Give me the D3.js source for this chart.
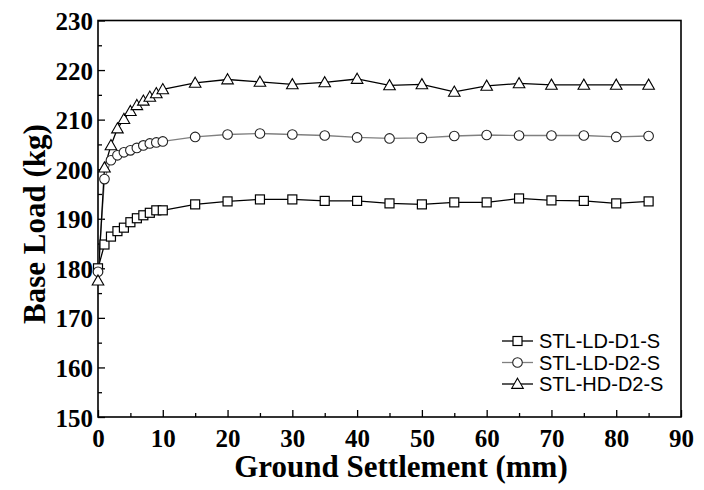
<!DOCTYPE html>
<html><head><meta charset="utf-8">
<script src="https://cdn.jsdelivr.net/npm/d3@7"></script>
<style>html,body{margin:0;padding:0;background:#fff;}</style>
</head><body>
<svg id="chart" width="704" height="490"></svg>
<script>
const settlement = [0,1,2,3,4,5,6,7,8,9,10,15,20,25,30,35,40,45,50,55,60,65,70,75,80,85];
const ld1 = [180.0,184.8,186.4,187.5,188.2,189.3,190.1,190.7,191.2,191.7,191.7,192.9,193.5,193.9,193.9,193.6,193.6,193.1,192.9,193.3,193.3,194.1,193.7,193.6,193.1,193.5];
const ld2 = [179.3,198.0,201.8,202.8,203.4,203.8,204.3,204.8,205.2,205.4,205.6,206.5,207.0,207.2,207.0,206.8,206.4,206.2,206.3,206.7,206.9,206.8,206.8,206.8,206.5,206.7];
const hd2 = [177.5,200.3,204.8,208.2,210.1,211.7,212.9,213.8,214.6,215.3,216.1,217.4,218.1,217.6,217.1,217.5,218.2,216.9,217.1,215.6,216.8,217.3,217.0,217.0,217.0,217.0];
const seriesNames = ["STL-LD-D1-S","STL-LD-D2-S","STL-HD-D2-S"];
const xTicks = [0,10,20,30,40,50,60,70,80,90];
const yTicks = [150,160,170,180,190,200,210,220,230];
const xMinor = [5,15,25,35,45,55,65,75,85];
const yMinor = [155,165,175,185,195,205,215,225];

const svg = d3.select("#chart");
const L = 98, R = 681, T = 20.5, B = 417;
const x = d3.scaleLinear().domain([0,90]).range([L,R]);
const y = d3.scaleLinear().domain([150,230]).range([B,T]);

svg.append("rect").attr("width",704).attr("height",490).attr("fill","#fff");

const serif = "'Liberation Serif','Times New Roman',serif";

// axes (ticks inward)
const xAxis = svg.append("g").attr("transform",`translate(0,${B})`)
  .call(d3.axisBottom(x).tickValues(xTicks).tickSize(-7).tickPadding(15).tickFormat(d3.format("d")));
const xAxisMinor = svg.append("g").attr("transform",`translate(0,${B})`)
  .call(d3.axisBottom(x).tickValues(xMinor).tickSize(-4).tickFormat(""));
const yAxis = svg.append("g").attr("transform",`translate(${L},0)`)
  .call(d3.axisLeft(y).tickValues(yTicks).tickSize(-7).tickPadding(5).tickFormat(d3.format("d")));
const yAxisMinor = svg.append("g").attr("transform",`translate(${L},0)`)
  .call(d3.axisLeft(y).tickValues(yMinor).tickSize(-4).tickFormat(""));
[xAxis,xAxisMinor,yAxis,yAxisMinor].forEach(g=>{
  g.select(".domain").remove();
  g.selectAll(".tick line").attr("stroke","#000").attr("stroke-width",1.3);
});
[xAxis,yAxis].forEach(g=>g.selectAll(".tick text")
  .attr("font-family",serif).attr("font-weight","bold").attr("font-size",25).attr("fill","#000"));
xAxis.selectAll(".tick text").attr("dy","0.58em");
yAxis.selectAll(".tick text").attr("dy","0.36em");

// frame
svg.append("rect").attr("x",L).attr("y",T).attr("width",R-L).attr("height",B-T)
  .attr("fill","none").attr("stroke","#000").attr("stroke-width",1.6);

// titles
svg.append("text").attr("x",401).attr("y",477).attr("text-anchor","middle")
  .attr("font-family",serif).attr("font-weight","bold").attr("font-size",31).text("Ground Settlement (mm)");
svg.append("text").attr("transform","translate(45,224) rotate(-90)").attr("text-anchor","middle")
  .attr("font-family",serif).attr("font-weight","bold").attr("font-size",31).text("Base Load (kg)");

const series = [
  {name:seriesNames[0], vals:ld1, color:"#000", shape:"square"},
  {name:seriesNames[1], vals:ld2, color:"#808080", shape:"circle"},
  {name:seriesNames[2], vals:hd2, color:"#000", shape:"triangle"}
];
const line = d3.line().x(d=>x(d[0])).y(d=>y(d[1]));

function marker(g, shape, cx, cy){
  if(shape==="square"){
    g.append("rect").attr("x",cx-4.5).attr("y",cy-4.5).attr("width",9).attr("height",9)
      .attr("fill","#fff").attr("stroke","#000").attr("stroke-width",1.2);
  } else if(shape==="circle"){
    g.append("circle").attr("cx",cx).attr("cy",cy).attr("r",4.8)
      .attr("fill","#fff").attr("stroke","#222").attr("stroke-width",1.1);
  } else {
    const s = 5.8;
    g.append("path").attr("d",`M${cx},${cy-s}L${cx+s*1.0},${cy+s*0.75}L${cx-s*1.0},${cy+s*0.75}Z`)
      .attr("fill","#fff").attr("stroke","#000").attr("stroke-width",1.1);
  }
}

series.forEach(s=>{
  const pts = settlement.map((v,i)=>[v,s.vals[i]]);
  svg.append("path").datum(pts).attr("d",line).attr("fill","none")
    .attr("stroke",s.color).attr("stroke-width",1.3);
});
series.forEach(s=>{
  const g = svg.append("g");
  settlement.forEach((v,i)=>marker(g, s.shape, x(v), y(s.vals[i])));
});

// legend
const legY = [341, 362.5, 384];
series.forEach((s,i)=>{
  const g = svg.append("g");
  g.append("line").attr("x1",502).attr("x2",533).attr("y1",legY[i]).attr("y2",legY[i])
    .attr("stroke",s.color).attr("stroke-width",1.3);
  marker(g, s.shape, 517.5, legY[i]);
  g.append("text").attr("x",539).attr("y",legY[i]).attr("dy","0.36em")
    .attr("font-family","'Liberation Sans',Arial,sans-serif").attr("font-size",20)
    .attr("fill","#000").text(s.name);
});
</script>
</body></html>
